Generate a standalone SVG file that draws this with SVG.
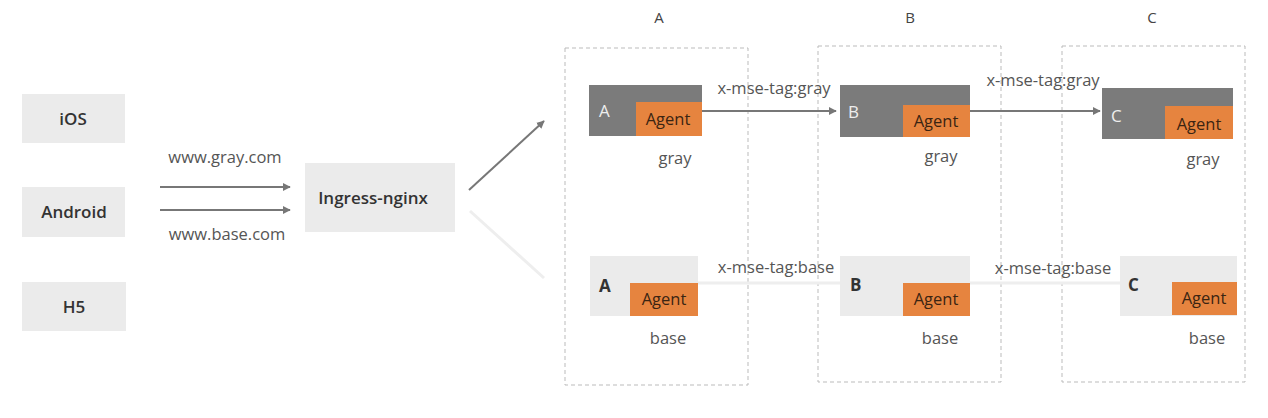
<svg xmlns="http://www.w3.org/2000/svg" width="1268" height="418" viewBox="0 0 1268 418">
<defs>
<style>
text{font-family:"Open Sans","Noto Sans","Liberation Sans",sans-serif;fill:#555;}
.box{fill:#ebebeb;}
.lbl{font-size:17px;fill:#333;text-anchor:middle;font-weight:600;}
.small{font-size:16.5px;fill:#555;text-anchor:middle;}
.tag{font-size:16.5px;fill:#555;text-anchor:middle;}
.col{font-size:15px;fill:#444;text-anchor:middle;}
.dash{fill:none;stroke:#bbb;stroke-width:1;stroke-dasharray:4 3;}
.dark{fill:#7b7b7b;}
.light{fill:#ebebeb;}
.agent{fill:#e6843f;}
.agt{font-size:16.5px;fill:#3b2412;text-anchor:middle;}
.wl{font-size:17px;fill:#eee;}
.bl{font-size:17px;fill:#333;font-weight:bold;}
.ga{stroke:#777;stroke-width:2;fill:none;}
.la{stroke:#eee;stroke-width:3;fill:none;}
</style>
<marker id="ah" viewBox="0 0 10 10" refX="9" refY="5" markerWidth="4" markerHeight="4" orient="auto"><path d="M0,0 L10,5 L0,10 z" fill="#777"/></marker>
</defs>
<rect width="1268" height="418" fill="#fff"/>

<g id="col-labels">
<text x="659" y="23" class="col">A</text>
<text x="910" y="23" class="col">B</text>
<text x="1152" y="23" class="col">C</text>
</g>

<g id="container-A"><rect class="dash" x="565" y="48" width="183" height="337"/></g>
<g id="container-B"><rect class="dash" x="818" y="46" width="183" height="336"/></g>
<g id="container-C"><rect class="dash" x="1062" y="46" width="183" height="336"/></g>

<g id="ios"><rect class="box" x="22" y="94" width="103" height="49"/><text x="73" y="125" class="lbl">iOS</text></g>
<g id="android"><rect class="box" x="22" y="187" width="103" height="50"/><text x="74" y="218" class="lbl">Android</text></g>
<g id="h5"><rect class="box" x="22" y="282" width="104" height="49"/><text x="74" y="313" class="lbl">H5</text></g>
<g id="ingress"><rect class="box" x="305" y="163" width="150" height="69"/><text x="373" y="204" class="lbl">Ingress-nginx</text></g>

<g id="connectors">
<line class="ga" x1="160" y1="187" x2="290" y2="187" marker-end="url(#ah)"/>
<line class="ga" x1="160" y1="210" x2="290" y2="210" marker-end="url(#ah)"/>
<text x="225" y="163" class="small">www.gray.com</text>
<text x="227" y="240" class="small">www.base.com</text>
<line class="ga" x1="469" y1="190" x2="544" y2="121" marker-end="url(#ah)"/>
<line class="la" x1="470" y1="211" x2="544" y2="278"/>
<line class="ga" x1="702" y1="111" x2="836" y2="111" marker-end="url(#ah)"/>
<text x="774" y="94" class="tag">x-mse-tag:gray</text>
<line class="ga" x1="970" y1="111" x2="1100" y2="111" marker-end="url(#ah)"/>
<text x="1043" y="86" class="tag">x-mse-tag:gray</text>
<line class="la" x1="698" y1="283" x2="840" y2="283"/>
<text x="776" y="273" class="tag">x-mse-tag:base</text>
<line class="la" x1="970" y1="283" x2="1120" y2="283"/>
<text x="1053" y="274" class="tag">x-mse-tag:base</text>
</g>

<g id="gray-A">
<rect class="dark" x="589" y="85" width="113" height="51"/>
<rect class="agent" x="636" y="102" width="66" height="34"/>
<text x="599" y="117" class="wl">A</text>
<text x="668" y="125" class="agt">Agent</text>
<text x="675" y="164" class="small">gray</text>
</g>
<g id="gray-B">
<rect class="dark" x="840" y="85" width="130" height="52"/>
<rect class="agent" x="903" y="105" width="67" height="32"/>
<text x="848" y="118" class="wl">B</text>
<text x="936" y="127" class="agt">Agent</text>
<text x="941" y="162" class="small">gray</text>
</g>
<g id="gray-C">
<rect class="dark" x="1102" y="88" width="131" height="51"/>
<rect class="agent" x="1165" y="106" width="68" height="33"/>
<text x="1111" y="122" class="wl">C</text>
<text x="1199" y="130" class="agt">Agent</text>
<text x="1203" y="165" class="small">gray</text>
</g>

<g id="base-A">
<rect class="light" x="590" y="256" width="108" height="60"/>
<rect class="agent" x="630" y="283" width="68" height="33"/>
<text x="599" y="292" class="bl">A</text>
<text x="664" y="305" class="agt">Agent</text>
<text x="668" y="344" class="small">base</text>
</g>
<g id="base-B">
<rect class="light" x="840" y="256" width="130" height="60"/>
<rect class="agent" x="903" y="283" width="67" height="33"/>
<text x="850" y="291" class="bl">B</text>
<text x="936" y="305" class="agt">Agent</text>
<text x="940" y="344" class="small">base</text>
</g>
<g id="base-C">
<rect class="light" x="1120" y="256" width="117" height="60"/>
<rect class="agent" x="1172" y="282" width="65" height="33"/>
<text x="1128" y="291" class="bl">C</text>
<text x="1204" y="304" class="agt">Agent</text>
<text x="1207" y="344" class="small">base</text>
</g>
</svg>
